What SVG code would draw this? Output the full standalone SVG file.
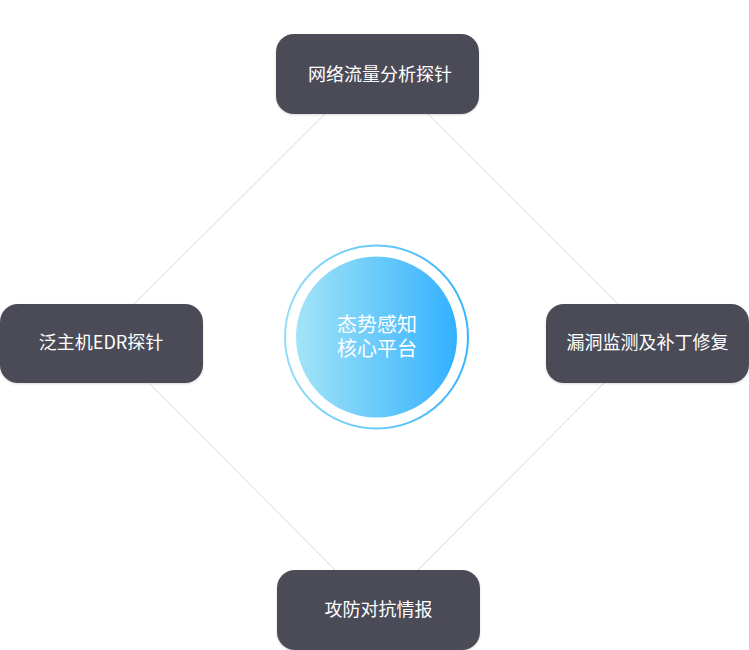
<svg xmlns="http://www.w3.org/2000/svg" width="749" height="650" viewBox="0 0 749 650">
<defs>
<linearGradient id="fillGrad" x1="0" y1="0" x2="1" y2="0">
<stop offset="0" stop-color="#a2e4f7"/>
<stop offset="1" stop-color="#33b1fe"/>
</linearGradient>
<linearGradient id="ringGrad" x1="0" y1="0" x2="1" y2="0">
<stop offset="0" stop-color="#92def6"/>
<stop offset="1" stop-color="#38b4fd"/>
</linearGradient>
<filter id="sh" x="-10%" y="-10%" width="120%" height="130%">
<feDropShadow dx="0" dy="1" stdDeviation="1" flood-color="#000" flood-opacity="0.15"/>
</filter>
</defs>
<style>
.node rect{fill:#4b4c58;filter:url(#sh)}
.label{fill:#ffffff;font-family:"Noto Sans CJK SC","Noto Sans",sans-serif;font-size:18px;text-anchor:middle}
.center{fill:#ffffff;font-family:"Noto Sans CJK SC","Noto Sans",sans-serif;font-size:20px;text-anchor:middle}
.conn line{stroke:#d9d9d9;stroke-width:1}
</style>
<rect width="749" height="650" fill="#ffffff"/>
<g id="connectors" class="conn">
<line x1="330" y1="109" x2="130" y2="308"/>
<line x1="423" y1="109" x2="622" y2="308"/>
<line x1="145" y1="379" x2="339" y2="574"/>
<line x1="608" y1="379" x2="414" y2="574"/>
</g>
<g id="center">
<circle cx="376.5" cy="337" r="91.5" fill="none" stroke="url(#ringGrad)" stroke-width="2"/>
<circle cx="376.5" cy="337" r="80.5" fill="url(#fillGrad)"/>
<text class="center"><tspan x="377" y="332">态势感知</tspan><tspan x="377" y="356">核心平台</tspan></text>
</g>
<g id="node-top" class="node">
<rect x="276" y="34" width="203" height="80" rx="18"/>
<text class="label" x="380" y="81">网络流量分析探针</text>
</g>
<g id="node-left" class="node">
<rect x="0" y="304" width="203" height="79" rx="18"/>
<text class="label" x="101" y="349">泛主机EDR探针</text>
</g>
<g id="node-right" class="node">
<rect x="546" y="304" width="203" height="79" rx="18"/>
<text class="label" x="647.5" y="349">漏洞监测及补丁修复</text>
</g>
<g id="node-bottom" class="node">
<rect x="277" y="570" width="203" height="80" rx="18"/>
<text class="label" x="378.5" y="616">攻防对抗情报</text>
</g>
</svg>
